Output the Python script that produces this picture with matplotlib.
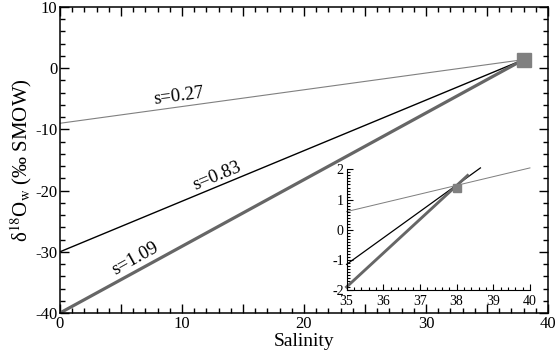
import matplotlib
matplotlib.use("Agg")
import matplotlib.pyplot as plt
from matplotlib.ticker import MultipleLocator, FuncFormatter

plt.rcParams["font.family"] = ["Liberation Serif", "DejaVu Serif"]
plt.rcParams["mathtext.fontset"] = "stix"
plt.rcParams["axes.unicode_minus"] = False

# mixing lines: end member (38, 1.4), fresh water intercepts at S=0
slopes = [0.27, 0.83, 1.09]
labels = ["s=0.27", "s=0.83", "s=1.09"]
y_at_zero = [-9, -30, -40]
end_x = 38
end_y = 1.4

# inset: values read at S=35 and where each line stops
inset_y35 = [0.6, -1.15, -1.9]
inset_end_x = [40.0, 38.65, 38.3]
inset_end_y = [2.05, 2.05, 1.8]

# label positions (data coords)
label_x = [9.7, 12.9, 6.2]
label_y = [-4.6, -17.6, -31.2]
label_rot = [7.5, 22.5, 29]

colors = ["#808080", "black", "#666666"]
widths = [0.8, 1.0, 2.3]

fig = plt.figure(figsize=(5.59, 3.61), dpi=100)
ax = fig.add_axes([0.1073, 0.133, 0.873, 0.8476])

for i in range(3):
    ax.plot([0, end_x], [y_at_zero[i], end_y], color=colors[i], lw=widths[i])
    ax.text(label_x[i], label_y[i], labels[i], rotation=label_rot[i],
            rotation_mode="anchor", ha="center", va="center", fontsize=13.5)
ax.plot([end_x], [end_y], marker="s", ms=9.5, color="#808080", ls="none")

ax.set_xlim(0, 40)
ax.set_ylim(-40, 10)
ax.xaxis.set_major_locator(MultipleLocator(5))
ax.xaxis.set_minor_locator(MultipleLocator(1))
ax.xaxis.set_major_formatter(FuncFormatter(lambda v, p: "%d" % v if v % 10 == 0 else ""))
ax.yaxis.set_major_locator(MultipleLocator(10))
ax.yaxis.set_minor_locator(MultipleLocator(2))
ax.tick_params(which="both", direction="in", top=True, right=True, labelsize=12, width=1)
ax.tick_params(which="major", length=6.5, pad=2)
ax.tick_params(which="minor", length=3.5)
for sp in ax.spines.values():
    sp.set_linewidth(1.1)
ax.set_xlabel("Salinity", fontsize=14, labelpad=1)
ax.set_ylabel("δ$^{18}$O$_{\\rm w}$ (‰ SMOW)", fontsize=15, labelpad=1)

# inset
axi = fig.add_axes([0.620, 0.1967, 0.328, 0.334])
axi.patch.set_alpha(0)
for i in range(3):
    axi.plot([35, inset_end_x[i]], [inset_y35[i], inset_end_y[i]],
             color=colors[i], lw=widths[i] * 0.9, clip_on=False)
axi.plot([end_x], [end_y], marker="s", ms=5.5, color="#808080", ls="none")
axi.set_xlim(35, 40)
axi.set_ylim(-2, 2)
axi.spines["top"].set_visible(False)
axi.spines["right"].set_visible(False)
axi.xaxis.set_major_locator(MultipleLocator(1))
axi.xaxis.set_minor_locator(MultipleLocator(0.2))
axi.yaxis.set_major_locator(MultipleLocator(1))
axi.yaxis.set_minor_locator(MultipleLocator(0.1))
axi.tick_params(which="both", direction="in", labelsize=10, width=0.8)
axi.tick_params(axis="x", pad=3.5)
axi.tick_params(axis="y", pad=2)
axi.tick_params(which="major", length=4.5)
axi.tick_params(which="minor", length=2.5)

fig.savefig("out.png", dpi=100)
